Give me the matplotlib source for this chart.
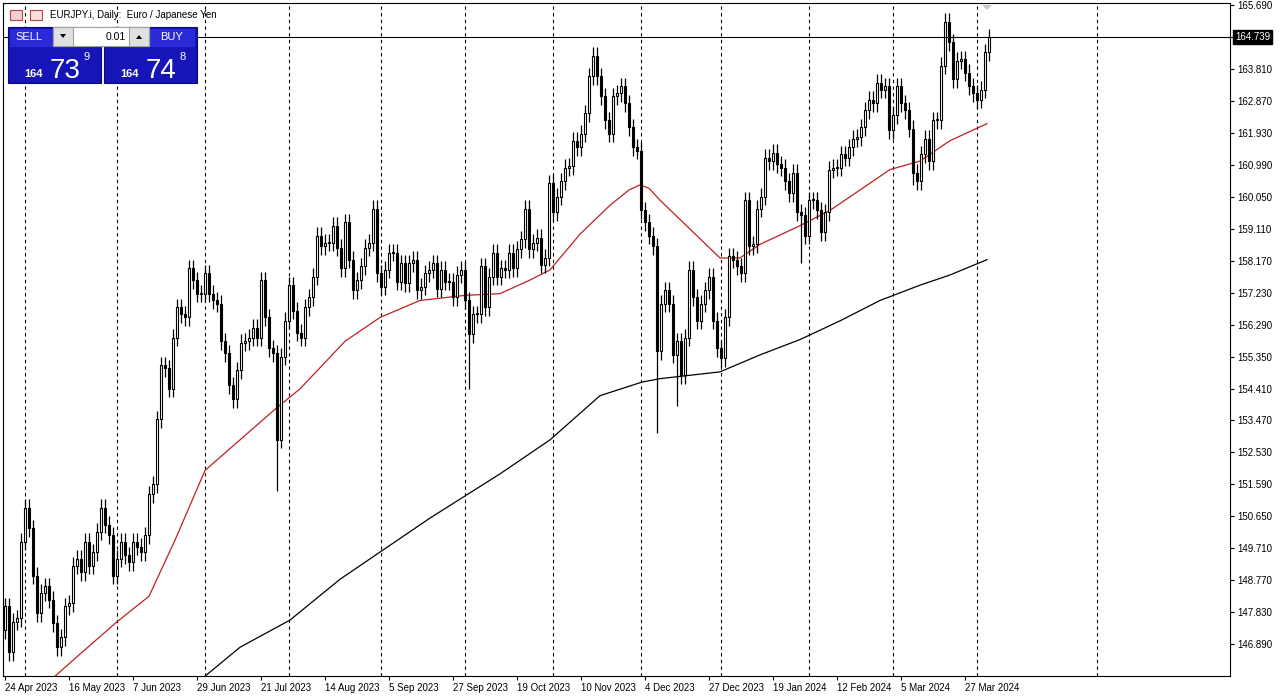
import matplotlib
matplotlib.use("Agg")
from matplotlib import pyplot as plt
from matplotlib.patches import Rectangle, Polygon
import numpy as np

plt.rcParams['font.family'] = ['Liberation Sans', 'DejaVu Sans']

# 收盘价 (逐根读图)
closes = [148.0,
    146.66, 147.55, 147.65, 149.9, 150.9, 150.3, 148.9, 147.8, 148.4, 148.6,
    148.2, 147.5, 146.8, 147.1, 148.0, 148.1, 149.2, 149.4, 149.0, 149.9,
    149.2, 149.6, 150.2, 150.9, 150.4, 150.1, 148.9, 149.4, 149.9, 149.5,
    149.3, 149.9, 149.75, 149.6, 150.1, 151.3, 151.6, 153.5, 155.1, 155.0,
    154.4, 155.9, 156.8, 156.6, 156.5, 157.95, 157.6, 157.2, 157.2, 157.8,
    157.2, 157.0, 156.9, 155.8, 155.45, 154.5, 154.1, 154.95, 155.75, 155.8,
    155.9,
    156.2, 155.9, 157.6, 156.5, 155.6, 155.45, 152.9, 155.35, 156.4, 157.45,
    156.7, 156.05, 155.9, 156.8, 157.1, 157.7, 158.9, 158.6, 158.7, 158.7,
    159.2, 158.55, 157.95, 159.3, 158.2, 157.3, 157.6, 158.0, 158.55, 158.7,
    159.7, 157.8, 157.4, 157.9, 158.4, 158.4, 157.55, 158.1, 157.5, 158.1,
    158.2, 157.3, 157.4, 157.8, 157.9, 158.1, 157.35, 157.9, 157.55, 157.55,
    157.1, 157.75, 157.9, 157.0, 156.0, 156.6, 156.6, 158.0, 156.8, 157.7,
    158.4, 157.7, 157.95, 157.9, 158.4, 157.95, 158.5, 158.8, 159.7, 158.5,
    158.7, 158.85, 158.05, 158.25,
    160.45, 159.6, 160.05, 160.5, 160.9, 160.95, 161.7, 161.5, 161.9, 162.5,
    163.6, 164.2, 163.6, 163.0, 162.3, 161.9, 163.0, 163.1, 163.3, 162.8,
    162.1, 161.5, 161.4, 159.65, 159.3, 158.9, 158.6,
    155.5, 156.9, 157.3, 156.9, 155.4, 155.8, 154.8, 155.9, 157.9, 157.1,
    156.4, 156.9, 157.3, 157.7, 156.4, 155.6, 155.3, 156.5, 158.3, 158.2,
    158.0, 157.8,
    159.95,
    158.6, 158.65, 159.7, 160.05, 161.2, 161.1, 161.35, 161.0, 160.9, 160.5,
    160.15, 160.75, 159.6, 159.5, 158.9, 159.95, 159.95, 159.65, 159.0, 159.6,
    160.85, 160.9, 160.9, 161.3, 161.2, 161.5, 161.75, 161.8, 162.1, 162.6,
    162.9, 162.8, 163.4, 163.2, 163.3, 162.0, 162.45, 163.3, 162.8, 162.6,
    162.05, 160.75, 160.5, 161.3, 161.75, 161.1, 162.3, 162.3, 163.9, 165.2,
    164.6, 163.5, 164.05, 164.1, 163.7, 163.3, 163.1, 162.9, 163.2, 164.3,
    164.74]
first_open = 147.3

# 长影线 (bar index, low)
long_lows = {68: 151.4, 116: 154.4, 163: 153.1, 168: 153.9, 199: 158.1, 227: 160.4}

# 均线 (bar index, price)
ma50_idx = [12.5, 18.75, 28, 36, 42.5, 50, 58.75, 67.5, 73.75, 85, 93.75, 103.75, 115, 123.75,
            131.25, 136.25, 143.75, 151.25, 156, 158.75, 161, 163.75, 171.25, 178.75, 183.75,
            188.75, 198.75, 206.25, 213.75, 221.25, 228.75, 236.25, 245.5]
ma50_val = [145.95, 146.6, 147.55, 148.3, 149.95, 152.0, 152.9, 153.8, 154.4, 155.8, 156.5, 157.0,
            157.15, 157.2, 157.6, 157.9, 158.95, 159.8, 160.25, 160.4, 160.3, 159.95, 159.1,
            158.25, 158.25, 158.65, 159.2, 159.65, 160.25, 160.85, 161.1, 161.7, 162.2]
ma200_idx = [50, 58.75, 71.25, 83.75, 93.75, 106.25, 115, 123.75, 136.25, 148.75, 159.25, 163.75,
             178.75, 188.75, 198.75, 208.75, 218.75, 228.75, 236.25, 245.5]
ma200_val = [145.95, 146.8, 147.6, 148.8, 149.6, 150.6, 151.25, 151.9, 152.9, 154.2, 154.6, 154.7,
             154.9, 155.4, 155.85, 156.4, 157.0, 157.45, 157.75, 158.2]

month_starts = [5, 28, 50, 71, 94, 115, 137, 159, 179, 201, 222, 243, 273]
date_idx = list(range(0, 241, 16))
date_labels = ["24 Apr 2023", "16 May 2023", "7 Jun 2023", "29 Jun 2023", "21 Jul 2023",
               "14 Aug 2023", "5 Sep 2023", "27 Sep 2023", "19 Oct 2023", "10 Nov 2023",
               "4 Dec 2023", "27 Dec 2023", "19 Jan 2024", "12 Feb 2024", "5 Mar 2024", "27 Mar 2024"]
price_ticks = [146.89 + 0.94 * k for k in range(21)]
last_price = 164.739

W, H = 1285, 699
fig = plt.figure(figsize=(W / 100, H / 100), dpi=100)
ax = fig.add_axes([3 / W, 23 / H, 1227 / W, 673 / H])
ax.set_xlim(-0.5, 306.25)
ax.set_ylim(145.955, 165.749)

n = len(closes)
x = np.arange(n)
c = np.array(closes)
o = np.concatenate([[first_open], c[:-1]])
hi = np.maximum(o, c) + 0.25
lo = np.minimum(o, c) - 0.25
for k, v in long_lows.items():
    if k < n:
        lo[k] = v

ax.vlines(x, lo, hi, color="black", lw=0.9, zorder=3)
up = c >= o
body = np.maximum(np.abs(c - o), 0.03)
ax.bar(x[up], body[up], bottom=np.minimum(o, c)[up], width=0.6, color="white",
       edgecolor="black", lw=0.8, zorder=4)
ax.bar(x[~up], body[~up], bottom=np.minimum(o, c)[~up], width=0.6, color="black",
       edgecolor="black", lw=0.8, zorder=4)

ax.plot(ma50_idx, ma50_val, color="#c02020", lw=0.9, zorder=2)
ax.plot(ma200_idx, ma200_val, color="black", lw=0.9, zorder=2)

for m in month_starts:
    ax.axvline(m, color="black", lw=0.8, ls=(0, (3, 3)), zorder=1)
ax.axhline(last_price, color="black", lw=0.8, zorder=5)

ax.yaxis.tick_right()
ax.set_yticks(price_ticks)
ax.set_yticklabels(["%.3f" % p for p in price_ticks])
ax.set_xticks(date_idx)
ax.set_xticklabels(date_labels, ha="left")
ax.tick_params(axis="both", labelsize=7, length=3, width=0.8, pad=2, direction="out")
for s in ax.spines.values():
    s.set_linewidth(0.8)
ax.text(1.004, (last_price - 145.955) / (165.749 - 145.955), "%.3f" % last_price,
        transform=ax.transAxes, fontsize=7, color="white", va="center", ha="left", zorder=10,
        bbox=dict(boxstyle="square,pad=0.2", fc="black", ec="black"))

# 左上角交易面板 (像素坐标)
ov = fig.add_axes([0, 0, 1, 1], zorder=20)
ov.set_xlim(0, W)
ov.set_ylim(H, 0)
ov.axis("off")
ov.text(50, 15, "EURJPY.i, Daily:  Euro / Japanese Yen", fontsize=7, va="center")
ov.add_patch(Rectangle((10, 10), 12, 10, fc="#f0d0d0", ec="#c04040", lw=0.8))
ov.add_patch(Rectangle((30, 10), 12, 10, fc="#fbe0e0", ec="#c04040", lw=0.8))
for x0 in (8, 104):
    ov.add_patch(Rectangle((x0, 27), 93, 56, fc="#1515b8", ec="#0a0a80", lw=0.8))
    ov.add_patch(Rectangle((x0 + 2, 29), 89, 18, fc="#2a2ad8", ec="none"))
ov.add_patch(Rectangle((53, 27), 96, 19, fc="white", ec="#a0a0a0", lw=0.8))
ov.add_patch(Rectangle((53, 27), 20, 19, fc="#e0e0e0", ec="#a0a0a0", lw=0.8))
ov.add_patch(Rectangle((129, 27), 20, 19, fc="#e0e0e0", ec="#a0a0a0", lw=0.8))
ov.add_patch(Polygon([[60, 34], [66, 34], [63, 38]], fc="black"))
ov.add_patch(Polygon([[136, 39], [142, 39], [139, 35]], fc="black"))
ov.text(126, 36.5, "0.01", fontsize=7.5, ha="right", va="center")
ov.text(29, 37, "SELL", fontsize=8, color="white", ha="center", va="center")
ov.text(172, 37, "BUY", fontsize=8, color="white", ha="center", va="center")
for x0, big, sup in ((24, "73", "9"), (120, "74", "8")):
    ov.text(x0, 77, "164", fontsize=8, color="white", va="baseline", fontweight="bold")
    ov.text(x0 + 26, 78, big, fontsize=20, color="white", va="baseline")
    ov.text(x0 + 59, 60, sup, fontsize=8, color="white", va="baseline")
ov.add_patch(Polygon([[982, 5], [992, 5], [987, 10]], fc="#c8c8c8"))

fig.savefig("out.png", dpi=100)
